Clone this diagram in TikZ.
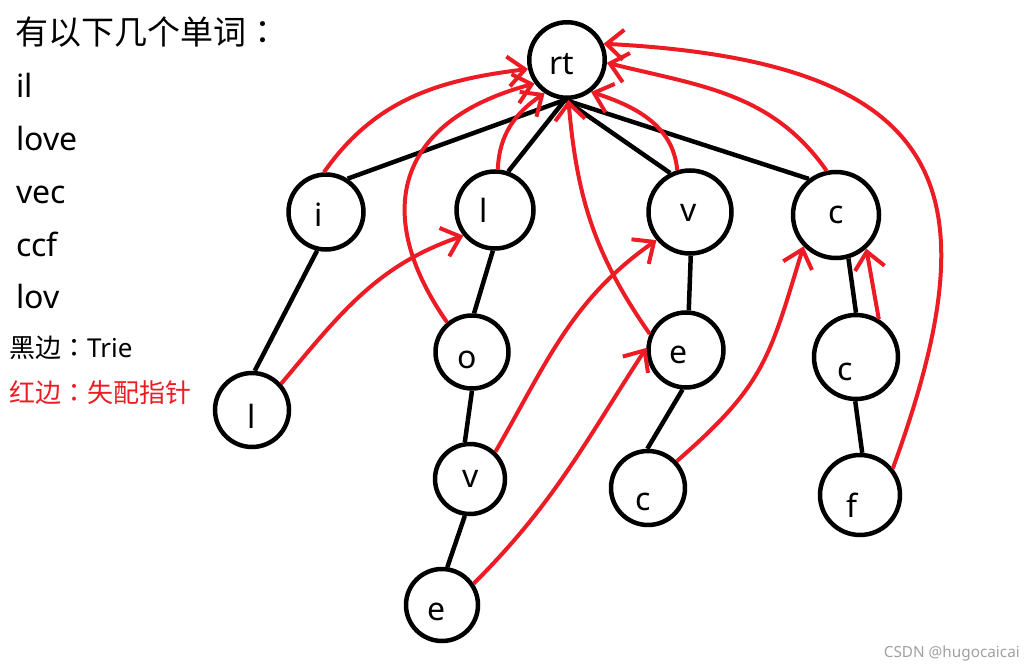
\documentclass[tikz,border=0pt]{standalone}
\usepackage{fontspec}
\setmainfont{Noto Sans}
\newfontfamily\cjk{Noto Sans CJK SC}
\newfontfamily\cjktc{Noto Sans CJK TC}
\usetikzlibrary{arrows.meta}
\definecolor{pred}{RGB}{237,28,36}
\definecolor{wmgray}{RGB}{160,160,160}
\tikzset{
  nd/.style={draw, circle, line width=4.5pt, inner sep=0pt},
  lab/.style={font=\fontsize{32}{32}\selectfont, inner sep=0pt, text height=24pt, text depth=0pt},
  trie/.style={line width=4.5pt},
  fail/.style={draw=pred, line width=4pt, -{Straight Barb[length=17pt,width=30pt]}},
  word/.style={anchor=base west, inner sep=0pt, font=\fontsize{32}{32}\selectfont},
}
\begin{document}
\begin{tikzpicture}[x=1pt,y=1pt]
\useasboundingbox (0,0) rectangle (1034,-669);
% left text
\node[word, font=\cjk\fontsize{33}{33}\selectfont] (t0) at (15,-45) {有以下几个单词{\cjktc ：}};
\node[word] (w1) at (16,-98) {il};
\node[word] (w2) at (16,-150) {love};
\node[word] (w3) at (16,-203) {vec};
\node[word] (w4) at (16,-256) {ccf};
\node[word] (w5) at (16,-308) {lov};
\node[word, font=\fontsize{26}{26}\selectfont] (k1) at (9,-357) {{\cjk 黑边}{\cjktc ：}Trie};
\node[word, font=\cjk\fontsize{26}{26}\selectfont, text=pred] (k2) at (9,-402) {红边{\cjktc ：}失配指针};
\node[anchor=base east, inner sep=0pt, font=\fontsize{15.3}{15.3}\selectfont, text=wmgray] (wm) at (1020,-657) {CSDN @hugocaicai};
% nodes
\node[nd, minimum size=75.5pt, label={[lab, xshift=-5pt, yshift=-3pt]center:rt}] (rt) at (567,-60) {};
\node[nd, minimum size=75pt, label={[lab, xshift=-7pt, yshift=-2pt]center:i}] (i) at (326,-212) {};
\node[nd, minimum size=77pt, label={[lab, xshift=-11pt, yshift=0pt]center:l}] (l) at (495,-210) {};
\node[nd, minimum size=74pt, label={[lab, xshift=0pt, yshift=-6pt]center:l}] (lb) at (252,-410) {};
\node[nd, minimum size=73pt, label={[lab, xshift=-5pt, yshift=-4pt]center:o}] (o) at (472,-352) {};
\node[nd, minimum size=70pt, label={[lab, xshift=1pt, yshift=4pt]center:v}] (v2) at (470,-479) {};
\node[nd, minimum size=72pt, label={[lab, xshift=-5pt, yshift=-3pt]center:e}] (e2) at (442,-605) {};
\node[nd, minimum size=83pt, label={[lab, xshift=-1pt, yshift=3pt]center:v}] (v) at (690,-212) {};
\node[nd, minimum size=75pt, label={[lab, xshift=-7pt, yshift=-1pt]center:e}] (e) at (686,-350) {};
\node[nd, minimum size=74pt, label={[lab, xshift=-5pt, yshift=-10pt]center:c}] (c2) at (648,-488) {};
\node[nd, minimum size=86pt, label={[lab, xshift=0pt, yshift=4pt]center:c}] (c) at (836,-215) {};
\node[nd, minimum size=84pt, label={[lab, xshift=-11pt, yshift=-11pt]center:c}] (c3) at (856,-357) {};
\node[nd, minimum size=80pt, label={[lab, xshift=-8pt, yshift=-10pt]center:f}] (f) at (860,-495) {};
% trie edges
\draw[trie] (rt.-93) -- (i.57);
\draw[trie] (rt.-93) -- (l.71);
\draw[trie] (rt.-93) -- (v.117);
\draw[trie] (rt.-93) -- (c.127);
\draw[trie] (i.-103) -- (lb.86);
\draw[trie] (l.-93) -- (o.87);
\draw[trie] (o.-90) -- (v2.98);
\draw[trie] (v2.262) -- (e2.82);
\draw[trie] (v.-89) -- (e.86);
\draw[trie] (e.-95) -- (c2.91);
\draw[trie] (c.-74) -- (c3.90);
\draw[trie] (c3.-91) -- (f.87);
% failure pointers
\draw[fail] (i.93) to[out=55, in=187] (rt.193);
\draw[fail] (lb.42) to[out=50, in=199] (l.219);
\draw[fail] (o.130) .. controls +(125:129) and +(195:147) .. (rt.216);
\draw[fail] (l.86) to[out=88, in=214] (rt.236);
\draw[fail] (v2.47) to[out=60, in=215] (v.220);
\draw[fail] (e.156) to[out=125, in=275] (rt.272);
\draw[fail] (e2.34) to[out=45, in=237] (e.177);
\draw[fail] (v.107) to[out=95, in=342] (rt.307);
\draw[fail] (c.102) to[out=125, in=346] (rt.356);
\draw[fail] (f.39) .. controls +(70:290) and +(-3:355) .. (rt.24);
\draw[fail] (c2.43) to[out=41, in=253, looseness=1.2] (c.224);
\draw[fail] (c3.59) -- (c.312);
\end{tikzpicture}
\end{document}
